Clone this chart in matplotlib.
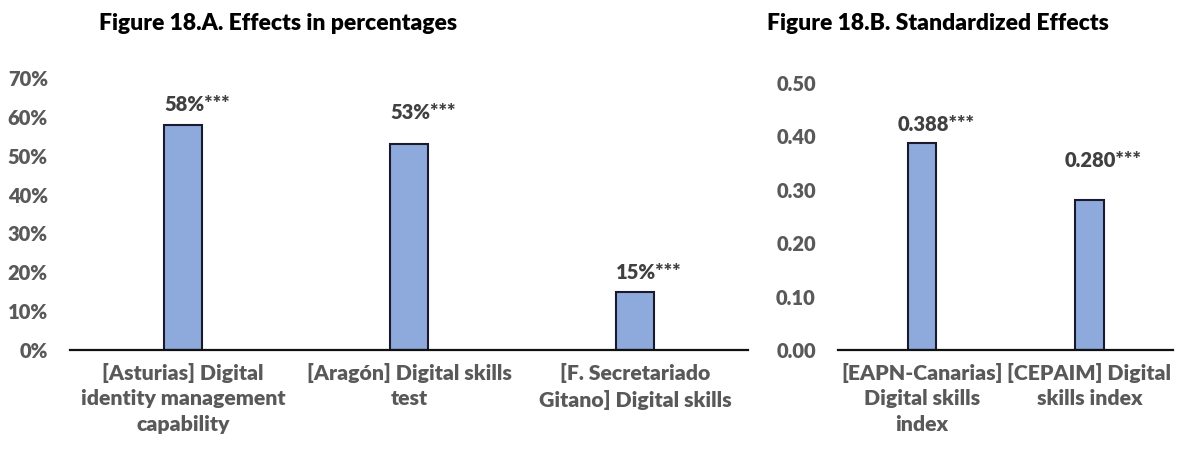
import matplotlib.pyplot as plt
import numpy as np
from matplotlib.ticker import FuncFormatter

# data
pct_categories = [
    "[Asturias] Digital\nidentity management\ncapability",
    "[Aragón] Digital skills\ntest",
    "[F. Secretariado\nGitano] Digital skills",
]
pct_values = [0.58, 0.53, 0.15]
pct_labels = ["58%***", "53%***", "15%***"]

std_categories = [
    "[EAPN-Canarias]\nDigital skills\nindex",
    "[CEPAIM] Digital\nskills index",
]
std_values = [0.388, 0.280]
std_labels = ["0.388***", "0.280***"]

# label lift above each bar (points), labels were placed by hand in the original
pct_label_lift = [8, 16, 7]
std_label_lift = [6.5, 22]

BAR_COLOR = "#8EA9DB"
EDGE_COLOR = "#1a1a2e"
TICK_COLOR = "#595959"
LABEL_COLOR = "#404040"
FONT = ["Lato", "DejaVu Sans"]

plt.rcParams["font.family"] = FONT
plt.rcParams["font.weight"] = "heavy"

fig = plt.figure(figsize=(11.82, 4.5), dpi=100)
ax_a = fig.add_axes([0.0592, 0.2222, 0.5736, 0.6044])
ax_b = fig.add_axes([0.709, 0.2222, 0.2834, 0.5933])


def style_axes(ax, categories, ymax, step, fmt):
    ax.set_xlim(-0.5, len(categories) - 0.5)
    ax.set_ylim(0, ymax)
    ax.set_yticks(np.arange(0, ymax + step / 2, step))
    ax.yaxis.set_major_formatter(FuncFormatter(fmt))
    ax.set_xticks(np.arange(len(categories)))
    ax.set_xticklabels(categories, fontsize=15.3, color=TICK_COLOR,
                       fontweight="heavy", linespacing=1.42)
    for spine in ["top", "right", "left"]:
        ax.spines[spine].set_visible(False)
    ax.spines["bottom"].set_linewidth(1.6)
    ax.spines["bottom"].set_color("#111111")
    ax.tick_params(axis="both", length=0)
    ax.tick_params(axis="y", labelsize=14.5, labelcolor=TICK_COLOR, pad=16)
    ax.tick_params(axis="x", pad=9)
    for lab in ax.get_yticklabels():
        lab.set_fontweight("heavy")


def draw_bars(ax, values, labels, lifts, width):
    x = np.arange(len(values))
    ax.bar(x, values, width=width, color=BAR_COLOR,
           edgecolor=EDGE_COLOR, linewidth=1.5, zorder=2)
    for xi, v, lab, lift in zip(x, values, labels, lifts):
        ax.annotate(lab, (xi, v), xytext=(10, lift), textcoords="offset points",
                    ha="center", va="bottom", fontsize=14.5, color=LABEL_COLOR,
                    fontweight="heavy")


draw_bars(ax_a, pct_values, pct_labels, pct_label_lift, 0.168)
style_axes(ax_a, pct_categories, 0.7, 0.1, lambda v, p: f"{v * 100:.0f}%")

draw_bars(ax_b, std_values, std_labels, std_label_lift, 0.17)
style_axes(ax_b, std_categories, 0.5, 0.1, lambda v, p: f"{v:.2f}")

fig.text(278 / 1182, 1 - 23 / 450, "Figure 18.A. Effects in percentages",
         ha="center", va="center", fontsize=16.5, fontweight="heavy", color="black")
fig.text(938 / 1182, 1 - 23 / 450, "Figure 18.B. Standardized Effects",
         ha="center", va="center", fontsize=16.5, fontweight="heavy", color="black")

fig.savefig("out.png", dpi=100)
